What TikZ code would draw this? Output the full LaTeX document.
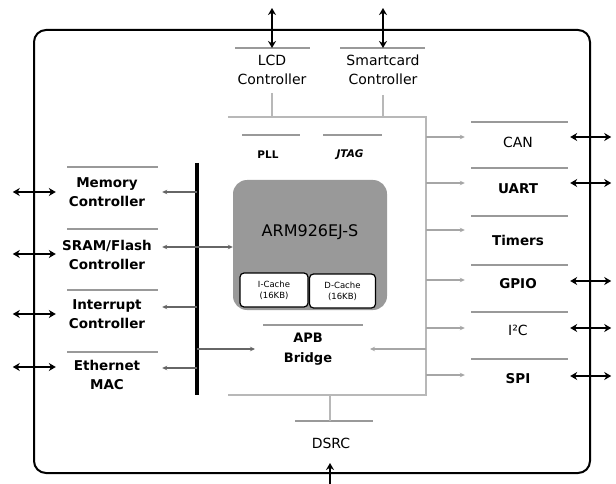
\documentclass[tikz,border=0pt]{standalone}
\usepackage{fontspec}
\setmainfont{DejaVu Sans}
\usetikzlibrary{arrows.meta}
\begin{document}
\begin{tikzpicture}[x=1pt,y=-1pt,
  lbl/.style={align=center,font=\fontsize{14}{19}\selectfont,inner sep=0pt},
  blbl/.style={align=center,font=\bfseries\fontsize{13.5}{19}\selectfont,inner sep=0pt},
  small/.style={align=center,font=\bfseries\fontsize{10.5}{13}\selectfont,inner sep=0pt},
  topln/.style={draw=black!40,line width=2.6pt},
  edgeln/.style={draw=black!28,line width=1.6pt},
  conn/.style={draw=black!35,line width=1.3pt,-{Stealth[length=5pt,width=4.5pt]}},
  lconn/.style={draw=black!60,line width=1.4pt,-{Stealth[length=5pt,width=4.5pt]}},
  dbl/.style={draw=black,line width=2.4pt,{Stealth[length=7pt,width=8pt]}-{Stealth[length=7pt,width=8pt]}},
  upar/.style={draw=black,line width=2.4pt,-{Stealth[length=7pt,width=8pt]}},
  bus/.style={draw=black,line width=3.6pt},
  cache/.style={draw=black,line width=1.2pt,fill=white,rounded corners=4pt,align=center,font=\fontsize{8.5}{11}\selectfont,inner sep=0pt},
]
\useasboundingbox (0,0) rectangle (616,484);
% outer chip
\node[draw=black,line width=2pt,rounded corners=12pt,minimum width=556,minimum height=443,inner sep=0pt] (soc) at (312,251.5) {};

% CPU subsystem box (top, right, bottom edges visible)
\node[minimum width=198,minimum height=278,inner sep=0pt] (cpu) at (327,256) {};
\draw[edgeln] (cpu.north west) -- (cpu.north east) -- (cpu.south east) -- (cpu.south west);

% ARM core
\node[fill=black!40,rounded corners=14pt,minimum width=154,minimum height=130,inner sep=0pt] (arm) at (310,245) {};
\node[font=\fontsize{16}{18}\selectfont,inner sep=0pt] (armlbl) at (310,232) {ARM926EJ-S};
\node[cache,minimum width=68,minimum height=34] (ic) at (274,290) {I-Cache\\(16KB)};
\node[cache,minimum width=66,minimum height=34] (dc) at (342.5,291) {D-Cache\\(16KB)};

% PLL, JTAG
\node[small] (pll) at (268,155) {PLL};
\draw[topln] (242,135) -- (300,135);
\node[small,font=\bfseries\itshape\fontsize{10.5}{13}\selectfont] (jtag) at (350,155) {JTAG};
\draw[topln] (323,135) -- (382,135);

% APB Bridge
\node[blbl,font=\bfseries\fontsize{13}{20}\selectfont] (apb) at (308,349) {APB\\Bridge};
\draw[topln] (263,325) -- (363,325);
\coordinate (apbin) at (370,349);

% DSRC
\node[lbl] (dsrc) at (331,443) {DSRC};
\draw[topln] (295,421) -- (373,421);
\draw[edgeln] (cpu.south -| 330,0) -- (330,421);
\coordinate (dsrcio) at (330,484);
\draw[upar] (dsrcio) -- (330,463);

% top peripherals
\node[lbl] (lcd) at (272,70) {LCD\\Controller};
\draw[topln] (235,48) -- (310,48);
\coordinate (lcdio) at (272,8);
\draw[dbl] (lcdio) -- (lcdio |- 0,48);
\draw[edgeln] (lcd.south |- 0,93) -- (lcd.south |- cpu.north);

\node[lbl] (sc) at (383,70) {Smartcard\\Controller};
\draw[topln] (340,48) -- (425,48);
\coordinate (scio) at (383,8);
\draw[dbl] (scio) -- (scio |- 0,48);
\draw[edgeln] (sc.south |- 0,95) -- (sc.south |- cpu.north);

% bus
\coordinate (busT) at (197,163);
\coordinate (busB) at (197,395);
\draw[bus] (busT) -- (busB);

% left peripherals
\node[blbl,minimum width=110] (mem) at (107,192) {Memory\\Controller};
\draw[topln] (67,167) -- (158,167);
\draw[lconn] (busT |- 0,192) -- (mem.east |- 0,192);
\draw[dbl] ([xshift=4]mem.west |- 0,192) -- ([xshift=-39]mem.west |- 0,192);

\node[blbl,minimum width=110] (sram) at (107,254.5) {SRAM/Flash\\Controller};
\draw[topln] (67,229) -- (158,229);
\draw[lconn] (busT |- 0,247) -- (sram.east |- 0,247);
\draw[lconn] (busT |- 0,247) -- (arm.west |- 0,247);
\draw[dbl] ([xshift=4]sram.west |- 0,254) -- ([xshift=-39]sram.west |- 0,254);

\node[blbl,minimum width=110] (irq) at (107,314.5) {Interrupt\\Controller};
\draw[topln] (67,290) -- (158,290);
\draw[lconn] (busT |- 0,307) -- (irq.east |- 0,307);
\draw[dbl] ([xshift=4]irq.west |- 0,314) -- ([xshift=-39]irq.west |- 0,314);

\node[blbl,minimum width=110] (eth) at (107,375) {Ethernet\\MAC};
\draw[topln] (67,352) -- (158,352);
\draw[lconn] (busT |- 0,368) -- (eth.east |- 0,368);
\draw[dbl] ([xshift=4]eth.west |- 0,367) -- ([xshift=-39]eth.west |- 0,367);

% bus to APB bridge, and peripheral side to APB bridge
\draw[lconn] (busT |- 0,349) -- (255,349);
\draw[conn] (cpu.east |- apbin) -- (apbin);

% right peripherals
\node[lbl,minimum width=106] (can) at (518,142) {CAN};
\draw[topln] (471,122) -- (568,122);
\draw[conn] (cpu.east |- 0,137) -- (can.west |- 0,137);
\draw[dbl] ([xshift=-1]can.east |- 0,137) -- ([xshift=40]can.east |- 0,137);

\node[blbl,minimum width=106] (uart) at (518,189) {UART};
\draw[topln] (471,168) -- (568,168);
\draw[conn] (cpu.east |- 0,183) -- (uart.west |- 0,183);
\draw[dbl] ([xshift=-1]uart.east |- 0,183) -- ([xshift=40]uart.east |- 0,183);

\node[blbl,minimum width=106] (tim) at (518,240) {Timers};
\draw[topln] (471,216) -- (568,216);
\draw[conn] (cpu.east |- 0,230) -- (tim.west |- 0,230);

\node[blbl,minimum width=106] (gpio) at (518,284) {GPIO};
\draw[topln] (471,265) -- (568,265);
\draw[conn] (cpu.east |- 0,280) -- (gpio.west |- 0,280);
\draw[dbl] ([xshift=-1]gpio.east |- 0,281) -- ([xshift=40]gpio.east |- 0,281);

\node[lbl,minimum width=106] (i2c) at (518,330) {I²C};
\draw[topln] (471,312) -- (568,312);
\draw[conn] (cpu.east |- 0,328) -- (i2c.west |- 0,328);
\draw[dbl] ([xshift=-1]i2c.east |- 0,328) -- ([xshift=40]i2c.east |- 0,328);

\node[blbl,minimum width=106] (spi) at (518,379) {SPI};
\draw[topln] (471,359) -- (568,359);
\draw[conn] (cpu.east |- 0,375) -- (spi.west |- 0,375);
\draw[dbl] ([xshift=-1]spi.east |- 0,376) -- ([xshift=40]spi.east |- 0,376);
\end{tikzpicture}
\end{document}
